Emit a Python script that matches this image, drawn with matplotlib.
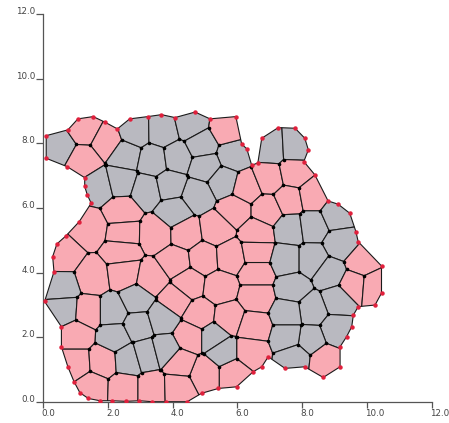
import numpy as np
import matplotlib
matplotlib.use('Agg')
import matplotlib.pyplot as plt
import matplotlib.tri as mtri
from matplotlib.collections import PolyCollection
from matplotlib.patches import Polygon
from matplotlib.path import Path
from matplotlib.transforms import ScaledTranslation

PINK = '#f9aab3'
GRAY = '#b9b9c0'

# cell centres, kind 0 = pink, 1 = grey
cell_x = [0.51, 1.28, 1.95, 1.23, 1.74, 2.53, 2.38, 2.82, 3.70, 3.40,
          3.20, 4.55, 4.13, 4.89, 5.87, 5.00, 5.56, 4.75, 3.91, 4.05,
          5.67, 7.03, 7.78, 2.42, 1.44, 2.47, 3.48, 4.40, 5.35, 5.92,
          6.28, 6.97, 7.75, 6.92, 7.60, 8.31, 6.60, 0.62, 2.42, 1.50,
          2.50, 3.35, 4.07, 4.96, 5.78, 6.59, 6.59, 4.48, 5.46,
          6.59, 4.07, 4.84, 5.72, 6.49, 4.53, 6.39, 5.87, 5.00, 4.22,
          0.61, 0.66, 1.38, 1.02, 1.02, 1.84, 2.15, 2.87, 2.20, 2.93,
          2.62, 3.18, 3.67, 3.76, 1.51, 2.49, 3.36, 4.15, 5.26, 5.56,
          7.64, 8.31, 9.07, 9.20, 7.52, 8.29, 8.86, 7.70, 9.11, 8.29,
          7.57, 9.06, 8.24, 7.57, 7.78, 8.70, 9.84, 9.58, 10.20]
cell_y = [7.89, 8.42, 8.06, 7.49, 6.67, 7.65, 6.82, 8.37, 8.38, 7.47,
          6.56, 8.58, 7.57, 7.96, 7.65, 7.29, 6.82, 6.41, 6.71, 5.88,
          8.42, 7.86, 7.90, 5.89, 5.38, 5.22, 5.20, 5.22, 5.35, 5.94,
          6.64, 6.92, 7.08, 5.94, 6.25, 6.38, 5.22, 4.50, 4.66, 3.86,
          3.99, 3.83, 4.34, 4.45, 4.50, 4.65, 3.98, 3.67, 3.55,
          3.26, 3.16, 2.69, 2.59, 2.33, 2.02, 1.56, 0.89, 0.89, 1.20,
          3.57, 2.85, 2.80, 2.07, 1.20, 1.25, 2.80, 3.16, 2.02, 2.38,
          1.30, 1.46, 2.60, 1.61, 0.46, 0.43, 0.43, 0.45, 2.02, 1.56,
          5.36, 5.45, 5.79, 4.90, 4.40, 4.40, 3.98, 3.52, 3.16, 2.85,
          2.75, 2.23, 1.92, 2.02, 1.40, 1.30, 4.34, 3.62, 3.57]
cell_kind = [1, 0, 0, 0, 1, 1, 1, 1, 1, 1,
             1, 1, 1, 1, 1, 1, 1, 1, 1, 1,
             0, 1, 1, 0, 0, 0, 0, 0, 0, 0,
             0, 0, 0, 0, 0, 0, 0, 0, 0, 0,
             0, 0, 0, 0, 0, 0, 0, 0, 0,
             0, 0, 0, 0, 0, 0, 0, 0, 0, 0,
             1, 1, 0, 0, 0, 0, 1, 1, 1, 1,
             1, 1, 1, 1, 0, 0, 0, 0, 1, 1,
             1, 1, 1, 1, 1, 1, 1, 1, 1, 1,
             1, 1, 1, 1, 1, 0, 0, 0, 0]

# free outer edge of the sheet
edge_x = [0.09, 0.76, 1.07, 1.54, 1.90, 2.29, 2.67, 3.23, 3.65, 4.07,
          4.69, 5.15, 5.95, 6.13, 6.29, 6.44, 6.63, 6.75, 7.26, 7.78,
          8.08, 8.19, 8.05, 8.39, 8.80, 9.11, 9.47, 9.66, 9.73, 10.45,
          10.45, 10.25, 9.73, 9.58, 9.53, 9.37, 9.17, 9.17, 8.65, 8.08,
          7.47, 6.95, 6.75, 6.49, 5.97, 5.41, 4.89, 4.45, 3.78, 3.35,
          2.97, 2.55, 2.11, 1.75, 1.39, 1.13, 0.95, 0.76, 0.56, 0.56,
          0.04, 0.33, 0.29, 0.42, 0.70, 1.11, 1.48, 1.36, 1.28, 1.28,
          0.74, 0.09]
edge_y = [8.24, 8.42, 8.76, 8.83, 8.66, 8.45, 8.76, 8.83, 8.89, 8.80,
          8.97, 8.76, 8.83, 7.98, 7.83, 7.32, 7.40, 8.16, 8.49, 8.47,
          8.16, 7.80, 7.44, 7.03, 6.22, 6.12, 5.84, 5.27, 4.96, 4.21,
          3.37, 3.00, 2.95, 2.69, 2.33, 2.02, 1.71, 1.09, 0.76, 1.09,
          1.04, 1.40, 1.09, 0.94, 0.47, 0.42, 0.27, 0.01, 0.01, 0.01,
          0.04, 0.02, 0.04, 0.04, 0.11, 0.29, 0.63, 1.09, 1.71, 2.33,
          3.11, 4.03, 4.50, 4.89, 5.14, 5.58, 6.15, 6.41, 6.67, 6.94,
          7.28, 7.54]


def voronoi_cells(px, py):
    """Voronoi polygons of the centres, closed off by a far ring of helper points."""
    n = len(px)
    ring = np.linspace(0, 2 * np.pi, 48, endpoint=False)
    gx = np.concatenate([px, 5.2 + 16 * np.cos(ring)])
    gy = np.concatenate([py, 4.5 + 16 * np.sin(ring)])
    t = mtri.Triangulation(gx, gy).triangles
    ax_, ay_ = gx[t[:, 0]], gy[t[:, 0]]
    bx, by = gx[t[:, 1]], gy[t[:, 1]]
    cx, cy = gx[t[:, 2]], gy[t[:, 2]]
    d = 2 * (ax_ * (by - cy) + bx * (cy - ay_) + cx * (ay_ - by))
    a2, b2, c2 = ax_ ** 2 + ay_ ** 2, bx ** 2 + by ** 2, cx ** 2 + cy ** 2
    ux = (a2 * (by - cy) + b2 * (cy - ay_) + c2 * (ay_ - by)) / d
    uy = (a2 * (cx - bx) + b2 * (ax_ - cx) + c2 * (bx - ax_)) / d
    polys = []
    for i in range(n):
        idx = np.where((t == i).any(axis=1))[0]
        vx, vy = ux[idx], uy[idx]
        order = np.argsort(np.arctan2(vy - py[i], vx - px[i]))
        polys.append(np.column_stack([vx[order], vy[order]]))
    return polys, ux, uy


px, py = np.array(cell_x), np.array(cell_y)
polys, vert_x, vert_y = voronoi_cells(px, py)
colors = [GRAY if k else PINK for k in cell_kind]

fig = plt.figure(figsize=(4.49, 4.23), dpi=100)
ax = fig.add_axes([0.0964, 0.0496, 0.865, 0.917])

outline = np.column_stack([edge_x, edge_y])
clip = Polygon(outline, closed=True, transform=ax.transData)

pc = PolyCollection(polys, facecolors=colors, edgecolors='#1a1a1a', linewidths=0.8)
ax.add_collection(pc)
pc.set_clip_path(clip)

ax.add_patch(Polygon(outline, closed=True, fill=False, edgecolor='#1a1a1a', lw=0.8))

# junctions inside the sheet
inside = Path(outline).contains_points(np.column_stack([vert_x, vert_y]), radius=-0.06)
ax.plot(vert_x[inside], vert_y[inside], 'o', color='black', ms=1.6, zorder=4)
ax.plot(edge_x, edge_y, 'o', color='#e0203c', ms=2.2, zorder=5)

ticks = np.arange(0, 13, 2)
ax.set_xlim(0, 12)
ax.set_ylim(0, 12)
ax.set_xticks(ticks)
ax.set_yticks(ticks)
ax.set_xticklabels([f'{v:.1f}' for v in ticks])
ax.set_yticklabels([f'{v:.1f}' for v in ticks])
for s in ['top', 'right']:
    ax.spines[s].set_visible(False)
for s in ['left', 'bottom']:
    ax.spines[s].set_color('#555555')
    ax.spines[s].set_linewidth(0.9)
ax.tick_params(axis='x', length=4.3, pad=1)
ax.tick_params(axis='y', length=5, pad=1)
ax.tick_params(width=0.9, color='#555555', labelsize=6.3, labelcolor='#444444')
shift = ScaledTranslation(-2 / 100, 0, fig.dpi_scale_trans)
for lab in ax.get_xticklabels():
    lab.set_horizontalalignment('left')
    lab.set_transform(lab.get_transform() + shift)
for lab in ax.get_yticklabels():
    lab.set_verticalalignment('baseline')

fig.savefig('out.png', dpi=100)
